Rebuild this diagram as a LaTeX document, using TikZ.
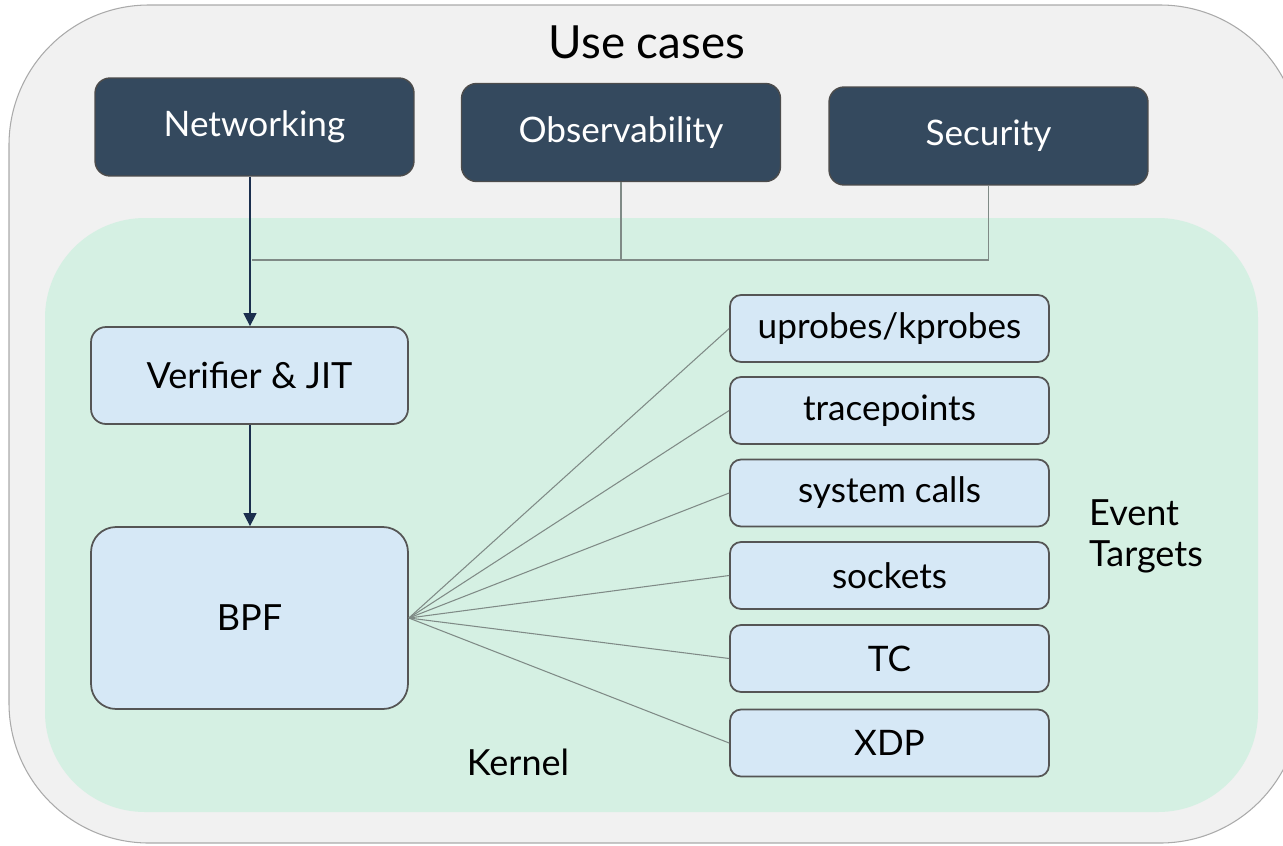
\documentclass[tikz,border=0pt]{standalone}
\usepackage{fontspec}
\setmainfont{Lato}
\usetikzlibrary{arrows.meta}
\definecolor{outerbg}{HTML}{F1F1F1}
\definecolor{outerline}{HTML}{AAAAAA}
\definecolor{kernelbg}{HTML}{D5F0E3}
\definecolor{usecase}{HTML}{34495E}
\definecolor{boxfill}{HTML}{D6E8F6}
\definecolor{boxline}{HTML}{555555}
\definecolor{navy}{HTML}{1B2F4E}
\definecolor{wire}{HTML}{7F8A86}
\tikzset{
  px/.style={x=0.02cm,y=-0.02cm},
  usecasebox/.style={draw=boxline!90!black,line width=0.8pt,fill=usecase,rounded corners=0.3cm,
    minimum width=6.38cm,minimum height=1.96cm,text=white,font=\fontsize{20}{24}\selectfont},
  kbox/.style={draw=boxline,line width=1pt,fill=boxfill,rounded corners=0.3cm,
    minimum width=6.34cm,text=black,font=\fontsize{20.5}{24}\selectfont},
  tbox/.style={draw=boxline,line width=1pt,fill=boxfill,rounded corners=0.22cm,
    minimum width=6.38cm,minimum height=1.34cm,text=black,font=\fontsize{20}{24}\selectfont},
  flow/.style={navy,line width=0.7pt,-{Triangle[length=0.26cm,width=0.26cm]}},
  feed/.style={wire,line width=0.7pt},
  fan/.style={wire,line width=0.6pt},
  plain/.style={font=\fontsize{20.5}{23.3}\selectfont,text=black}
}
\begin{document}
\begin{tikzpicture}[px]
\useasboundingbox (0,0) rectangle (1283,845);
% outer frame and kernel area
\draw[outerline,fill=outerbg,line width=0.6pt,rounded corners=2.8cm] (9,5) rectangle (1300,843);
\fill[kernelbg,rounded corners=2cm] (45,218) rectangle (1258,812);
\node[font=\fontsize{26}{30}\selectfont] (title) at (647,42) {Use cases};
% use cases
\node[usecasebox] (net) at (254.5,127) {Networking};
\node[usecasebox] (obs) at (621,132.5) {Observability};
\node[usecasebox] (sec) at (988.5,136) {Security};
% kernel pipeline
\node[kbox,minimum height=1.94cm] (ver) at (249.5,375.5) {Verifier \& JIT};
\node[kbox,minimum height=3.64cm,rounded corners=0.5cm] (bpf) at (249.5,618) {BPF};
% event targets
\node[tbox] (up) at (889.5,328.5) {uprobes/kprobes};
\node[tbox] (tp) at (889.5,410.5) {tracepoints};
\node[tbox] (sc) at (889.5,493) {system calls};
\node[tbox] (so) at (889.5,575.5) {sockets};
\node[tbox] (tc) at (889.5,658.5) {TC};
\node[tbox] (xdp) at (889.5,743) {XDP};
\node[plain,anchor=west,align=left] (evt) at (1083,536) {Event\\Targets};
\node[plain] (kern) at (518,762) {Kernel};
% connectors
\coordinate (join) at (252,260);
\draw[feed] (obs.south) |- (join);
\draw[feed] (sec.south) |- (obs.south |- join);
\draw[flow] (net.south -| 250,0) -- (ver.north -| 250,0);
\draw[flow] (ver.south -| 250,0) -- (bpf.north -| 250,0);
\foreach \t in {up,tp,sc,so,tc,xdp}{
  \draw[fan] (bpf.east) -- (\t.west);
}
\end{tikzpicture}
\end{document}
